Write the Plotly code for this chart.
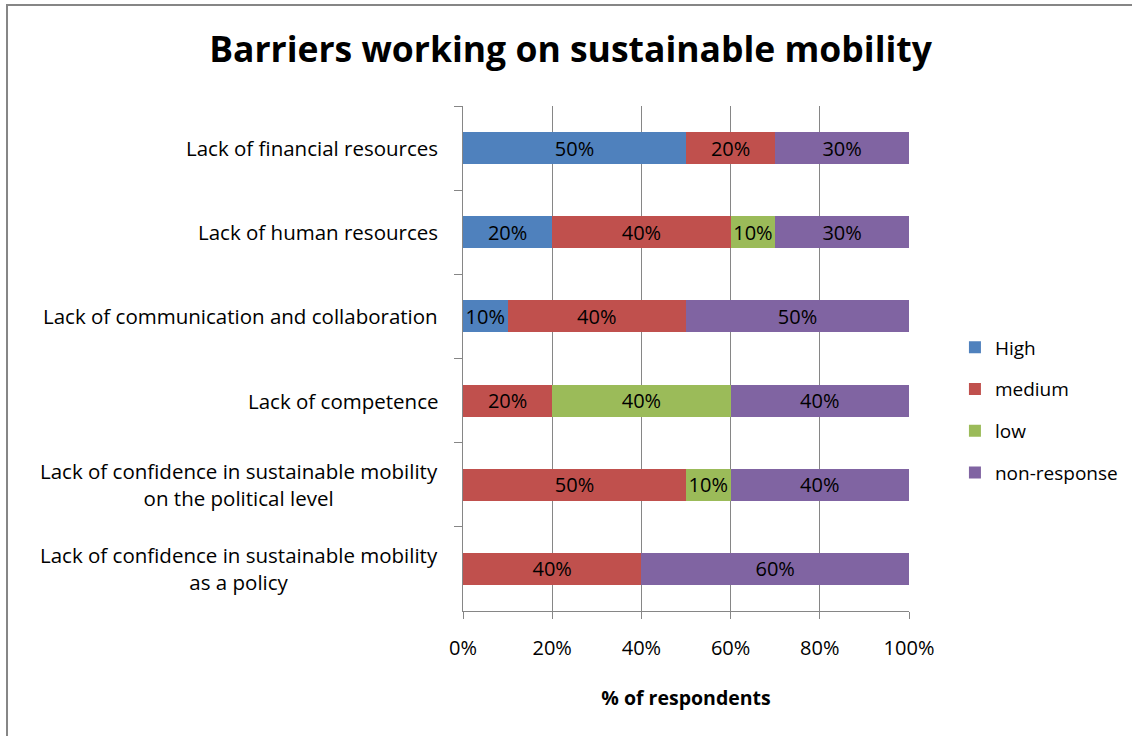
import plotly.graph_objects as go

# Survey results: share of respondents rating each barrier
categories = [
    "Lack of financial resources",
    "Lack of human resources",
    "Lack of communication and collaboration",
    "Lack of competence",
    "Lack of confidence in sustainable mobility<br>on the political level",
    "Lack of confidence in sustainable mobility<br>as a policy",
]
high = [50, 20, 10, 0, 0, 0]
medium = [20, 40, 40, 20, 50, 40]
low = [0, 10, 0, 40, 10, 0]
non_response = [30, 30, 50, 40, 40, 60]

series = [
    ("High", high, "#4F81BD"),
    ("medium", medium, "#C0504D"),
    ("low", low, "#9BBB59"),
    ("non-response", non_response, "#8064A2"),
]

x_ticks = [0, 20, 40, 60, 80, 100]
x_tick_labels = ["0%", "20%", "40%", "60%", "80%", "100%"]

FONT = "Open Sans, Calibri, sans-serif"
GRID = "#868686"

fig = go.Figure()
for name, vals, color in series:
    fig.add_trace(go.Bar(
        y=categories,
        x=vals,
        name=name,
        orientation="h",
        marker=dict(color=color, line=dict(width=0)),
        text=[f"{v}%" if v else "" for v in vals],
        textposition="inside",
        insidetextanchor="middle",
        constraintext="none",
        textfont=dict(color="black", size=20, family=FONT),
        legendgroup=name,
    ))

# Category labels, centred line by line
for cat in categories:
    fig.add_annotation(
        x=-0.052, xref="paper", y=cat, yref="y",
        text=cat, showarrow=False, xanchor="right", yanchor="middle",
        align="center", font=dict(size=20.5, color="black", family=FONT),
    )

# Outer chart frame
fig.add_shape(type="rect", xref="paper", yref="paper",
              x0=-1.0224, x1=1.7, y0=-0.7, y1=1.2,
              line=dict(color=GRID, width=2), fillcolor="rgba(0,0,0,0)", layer="below")

fig.update_layout(
    barmode="stack",
    bargap=0.62,
    width=1132, height=736,
    margin=dict(l=463, r=223, t=106, b=125, autoexpand=False),
    paper_bgcolor="white", plot_bgcolor="white",
    font=dict(family=FONT, color="black"),
    title=dict(text="<b>Barriers working on sustainable mobility</b>",
               x=0.504, xref="container", xanchor="center",
               y=0.932, yref="container", yanchor="middle",
               font=dict(size=35.5, color="black", family=FONT)),
    legend=dict(x=1.103, xanchor="left", y=0.398, yanchor="middle",
                traceorder="grouped", tracegroupgap=14,
                font=dict(size=19, color="black", family=FONT),
                itemwidth=30, bgcolor="rgba(0,0,0,0)"),
    xaxis=dict(range=[0, 100], tickvals=x_ticks, ticktext=x_tick_labels,
               showgrid=True, gridcolor=GRID, gridwidth=1,
               showline=True, linecolor=GRID, linewidth=1,
               ticks="outside", ticklen=7, tickcolor=GRID,
               ticklabelstandoff=12,
               tickfont=dict(size=20, family=FONT),
               title=dict(text="<b>% of respondents</b>", standoff=31,
                          font=dict(size=19.5, family=FONT)),
               zeroline=False, fixedrange=True),
    yaxis=dict(categoryorder="array", categoryarray=categories,
               autorange="reversed", showticklabels=False,
               showline=True, linecolor=GRID, linewidth=1,
               ticks="outside", ticklen=8, tickcolor=GRID,
               tickson="boundaries", showgrid=False, zeroline=False,
               fixedrange=True),
)

fig.write_html("out.html")
